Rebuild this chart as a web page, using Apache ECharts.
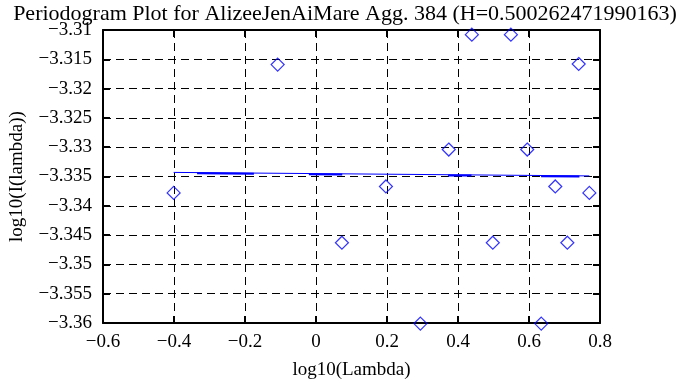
<!DOCTYPE html>
<html>
<head>
<meta charset="utf-8">
<script src="https://cdn.jsdelivr.net/npm/echarts@6/dist/echarts.min.js"></script>
<style>html,body{margin:0;padding:0;background:#fff;}#c{width:690px;height:385px;}</style>
</head>
<body>
<div id="c"></div>
<script>
var titleText = 'Periodogram Plot for AlizeeJenAiMare Agg. 384 (H=0.500262471990163)';
var xName = 'log10(Lambda)';
var yName = 'log10(I(lambda))';
var xTicks = [-0.6, -0.4, -0.2, 0, 0.2, 0.4, 0.6, 0.8];
var yTicks = [-3.36, -3.355, -3.35, -3.345, -3.34, -3.335, -3.33, -3.325, -3.32, -3.315, -3.31];

// periodogram points
var pointX = [-0.401, -0.108, 0.073, 0.197, 0.294, 0.374, 0.439, 0.498, 0.549, 0.595, 0.6345, 0.674, 0.708, 0.740, 0.770];
var pointY = [-3.3378, -3.3159, -3.3463, -3.3367, -3.3601, -3.3304, -3.3108, -3.3463, -3.3108, -3.3304, -3.3601, -3.3367, -3.3463, -3.3158, -3.3378];

// fitted line (thin)
var fitX = [-0.401, 0.770];
var fitY = [-3.3343, -3.3349];

// thick segments
var segStartX = [-0.335, -0.020, 0.372, 0.634];
var segEndX   = [-0.175, 0.074, 0.438, 0.742];
var segStartY = [-3.33443, -3.33460, -3.33481, -3.33495];
var segEndY   = [-3.33452, -3.33465, -3.33484, -3.33500];

var FONT = 'Liberation Serif';
function fmt(v) {
  var r = Math.round(v * 1000000) / 1000000;
  var s = String(r);
  return s.replace('-', '\u2212');
}

var pts = pointX.map(function (x, i) { return [x, pointY[i]]; });
var series = [
  {
    type: 'line', xAxisIndex: 0, yAxisIndex: 0,
    data: fitX.map(function (x, i) { return [x, fitY[i]]; }),
    showSymbol: false, symbol: 'none',
    lineStyle: { color: '#0000ff', width: 1 }, silent: true
  }
];
segStartX.forEach(function (sx, i) {
  series.push({
    type: 'line', xAxisIndex: 0, yAxisIndex: 0,
    data: [[sx, segStartY[i]], [segEndX[i], segEndY[i]]],
    showSymbol: false, symbol: 'none',
    lineStyle: { color: '#0000ff', width: 2 }, silent: true
  });
});
series.push({
  type: 'scatter', xAxisIndex: 0, yAxisIndex: 0,
  data: pts, symbol: 'diamond', symbolSize: 13, clip: false,
  itemStyle: { color: 'rgba(0,0,0,0)', borderColor: '#0000ff', borderWidth: 1.2 }
});

var axisLineStyle = { show: true, onZero: false, lineStyle: { color: '#000', width: 2 } };
var tickStyle = { show: true, inside: true, length: 7, lineStyle: { color: '#000', width: 2 } };
var splitStyle = { show: true, lineStyle: { color: '#000', width: 1, type: [8, 5] } };

var option = {
  animation: false,
  backgroundColor: '#fff',
  title: {
    text: titleText, left: 'center', top: -2,
    textStyle: { fontFamily: FONT, fontSize: 22, fontWeight: 'normal', color: '#000' }
  },
  grid: { left: 93, right: 90, top: 30, bottom: 57 },
  xAxis: [
    {
      type: 'value', position: 'bottom', min: xTicks[0], max: xTicks[xTicks.length - 1], interval: 0.2,
      name: xName, nameLocation: 'middle', nameGap: 38,
      nameTextStyle: { fontFamily: FONT, fontSize: 19, color: '#000' },
      axisLine: axisLineStyle, axisTick: tickStyle, splitLine: splitStyle,
      axisLabel: { fontFamily: FONT, fontSize: 19, color: '#000', margin: 10, formatter: fmt }
    },
    {
      type: 'value', position: 'top', min: xTicks[0], max: xTicks[xTicks.length - 1], interval: 0.2,
      axisLine: axisLineStyle, axisTick: tickStyle, splitLine: { show: false }, axisLabel: { show: false }
    }
  ],
  yAxis: [
    {
      type: 'value', position: 'left', min: yTicks[0], max: yTicks[yTicks.length - 1], interval: 0.005,
      name: yName, nameLocation: 'middle', nameGap: 76,
      nameTextStyle: { fontFamily: FONT, fontSize: 19, color: '#000' },
      axisLine: axisLineStyle, axisTick: tickStyle, splitLine: splitStyle,
      axisLabel: { fontFamily: FONT, fontSize: 19, color: '#000', margin: 11, formatter: fmt }
    },
    {
      type: 'value', position: 'right', min: yTicks[0], max: yTicks[yTicks.length - 1], interval: 0.005,
      axisLine: axisLineStyle, axisTick: tickStyle, splitLine: { show: false }, axisLabel: { show: false }
    }
  ],
  series: series
};
var chart = echarts.init(document.getElementById('c'), null, { renderer: 'canvas' });
chart.setOption(option);
</script>
</body>
</html>
